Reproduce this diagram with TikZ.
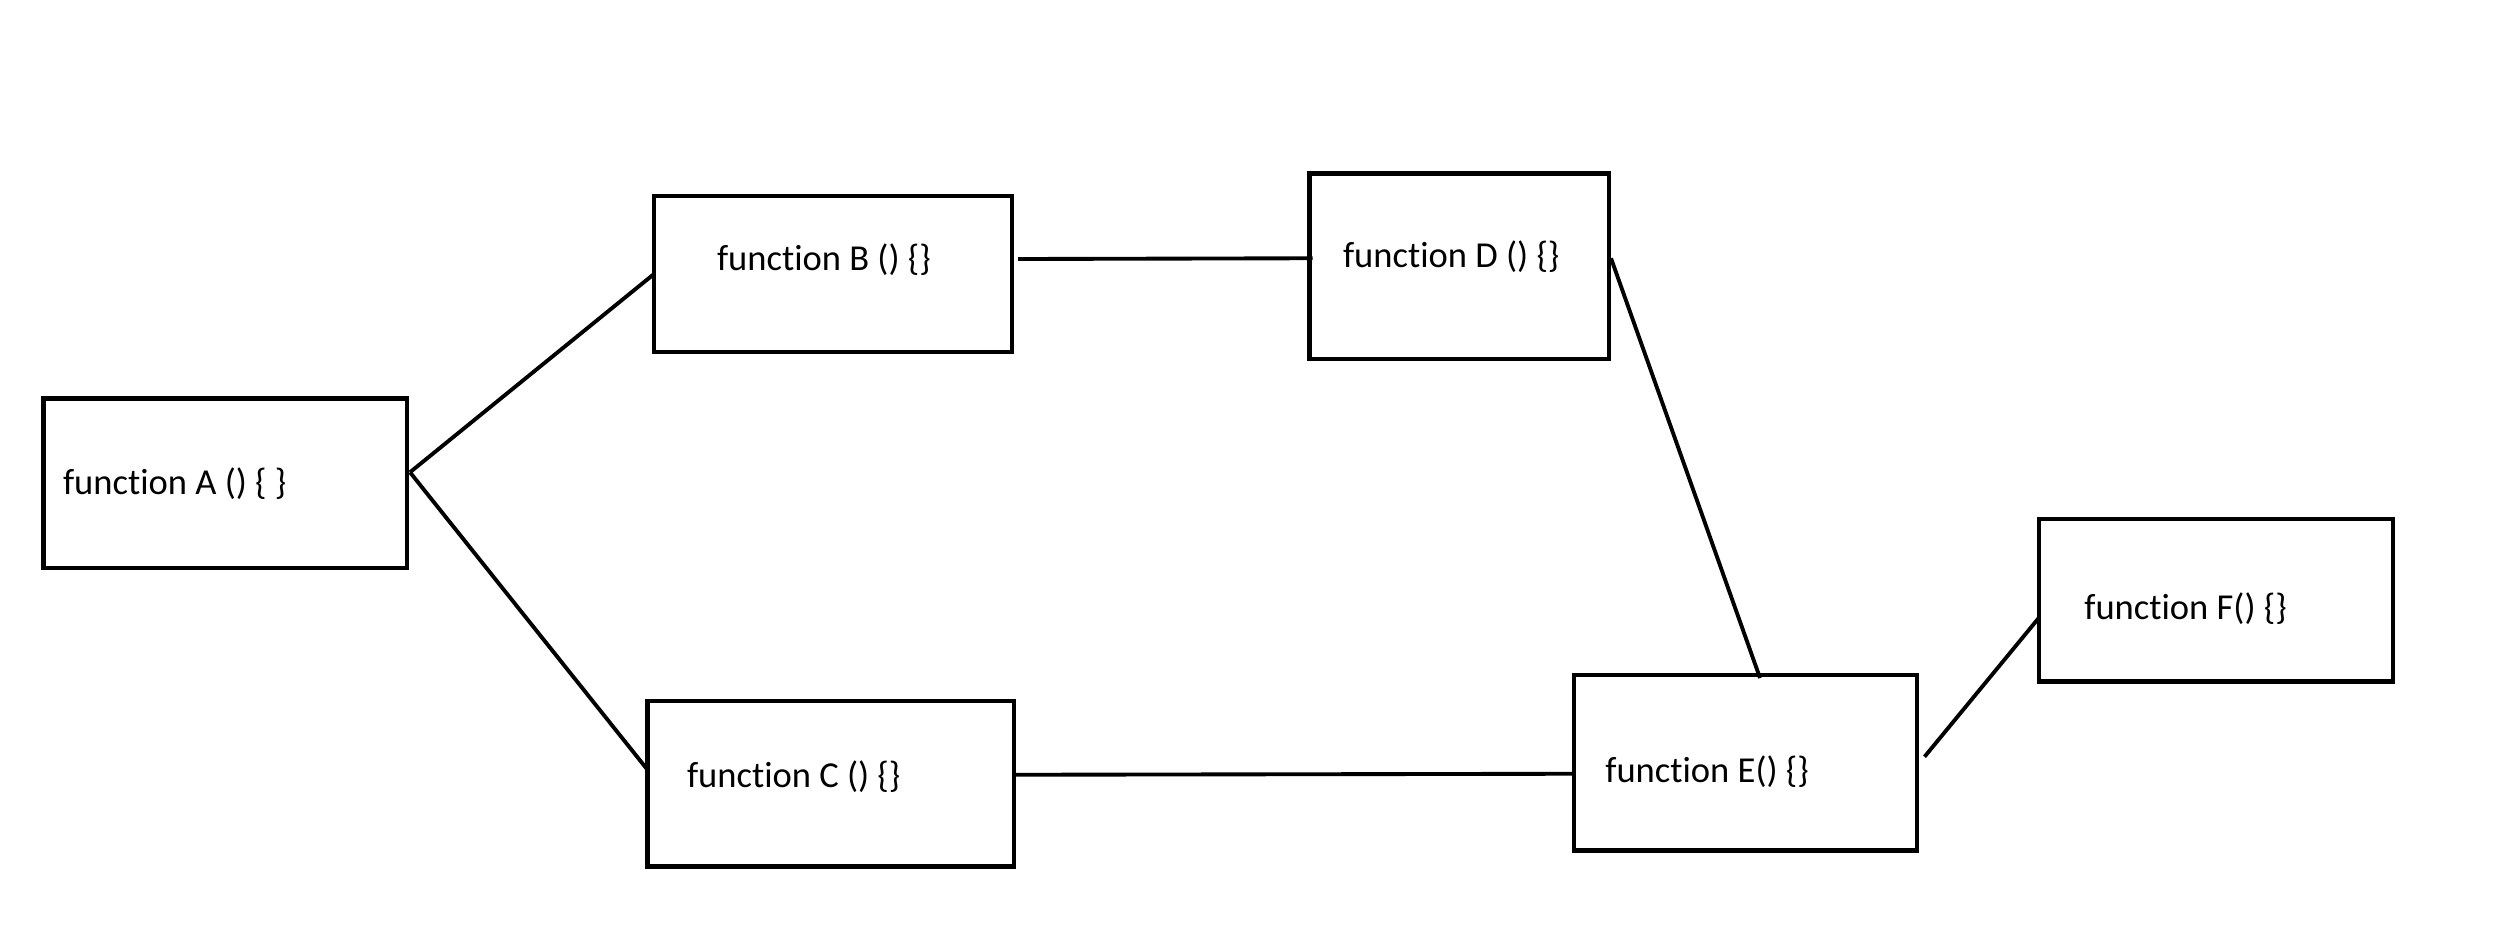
\documentclass[tikz,border=0pt]{standalone}
\usepackage{fontspec}
\setmainfont{Carlito}[Ligatures=NoCommon]
\usetikzlibrary{calc}
\begin{document}
\begin{tikzpicture}[x=0.02cm, y=-0.02cm,
  fnbox/.style={draw=black, line width=2.3pt, rectangle, inner sep=0pt, outer sep=0pt},
  fnlabel/.style={anchor=base west, inner sep=0pt, font=\fontsize{20.8pt}{25pt}\selectfont},
  link/.style={draw=black, line width=2.2pt}]
\useasboundingbox (0,0) rectangle (2507,951);
% function boxes
\node[fnbox, minimum width=363.5*0.02cm, minimum height=169.5*0.02cm] (A) at (225.25,483.25) {};
\node[fnbox, minimum width=358*0.02cm, minimum height=156*0.02cm] (B) at (833,274) {};
\node[fnbox, minimum width=366.5*0.02cm, minimum height=165.5*0.02cm] (C) at (830.75,783.75) {};
\node[fnbox, minimum width=299.5*0.02cm, minimum height=185.5*0.02cm] (D) at (1459.25,266.25) {};
\node[fnbox, minimum width=343*0.02cm, minimum height=175.5*0.02cm] (E) at (1745,762.75) {};
\node[fnbox, minimum width=354*0.02cm, minimum height=162.5*0.02cm] (F) at (2215.5,600.25) {};
% labels
\node[fnlabel] (tA) at (62.7,494) {function A () \{ \}};
\node[fnlabel] (tB) at (716.7,270) {function B () \{\}};
\node[fnlabel] (tC) at (686.7,787) {function C () \{\}};
\node[fnlabel] (tD) at (1342.7,267) {function D () \{\}};
\node[fnlabel] (tE) at (1605,782) {function E() \{\}};
\node[fnlabel] (tF) at (2084,619) {function F() \{\}};
% connectors
\coordinate (Aout) at ($(A.east)+(3,-11)$);
\draw[link] (Aout) -- (B.west);
\draw[link] (Aout) -- ($(C.west)+(0,-14)$);
\draw[link] ($(B.east)+(6,-15)$) -- ($(D.west)+(3,-8)$);
\draw[link] ($(C.east)+(0,-9)$) -- ($(E.west)+(0,11)$);
\draw[link] ($(D.east)+(2,-8)$) -- ($(E.north)+(15,3)$);
\draw[link] ($(E.east)+(8,-6)$) -- ($(F.west)+(0,18)$);
\end{tikzpicture}
\end{document}
